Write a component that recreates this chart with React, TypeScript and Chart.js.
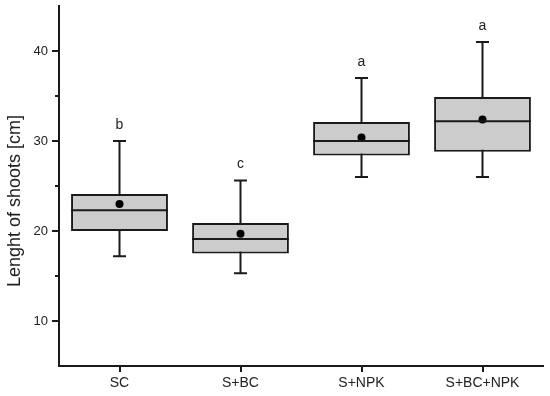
import React, { useEffect, useRef } from "react";
import { Chart, registerables } from "chart.js";

Chart.register(...registerables);

const categories = ["SC", "S+BC", "S+NPK", "S+BC+NPK"];
const q1 = [20.0, 17.5, 28.4, 28.8];
const q3 = [24.1, 20.9, 32.1, 34.9];
const medians = [22.3, 19.1, 30.0, 32.2];
const means = [23.0, 19.7, 30.4, 32.4];
const whiskerLow = [17.2, 15.3, 26.0, 26.0];
const whiskerHigh = [30.0, 25.6, 37.0, 41.0];
const letters = ["b", "c", "a", "a"];
const yMajorTicks = [10, 20, 30, 40];
const yMinorTicks = [15, 25, 35];
const yTitle = "Lenght of shoots [cm]";

const FONT = '"Liberation Sans", Arial, sans-serif';
const LINE = "#1a1a1a";
const LW = 2;

const boxPlugin = {
  id: "boxExtras",
  beforeDatasetsDraw(chart: any) {
    const { ctx, scales } = chart;
    const xs = scales.x;
    const ys = scales.y;
    ctx.save();
    ctx.strokeStyle = LINE;
    ctx.lineWidth = LW;
    categories.forEach((_, i) => {
      const cx = xs.getPixelForValue(i);
      const yLo = ys.getPixelForValue(whiskerLow[i]);
      const yHi = ys.getPixelForValue(whiskerHigh[i]);
      ctx.beginPath();
      ctx.moveTo(cx, yLo);
      ctx.lineTo(cx, yHi);
      ctx.moveTo(cx - 6.5, yLo);
      ctx.lineTo(cx + 6.5, yLo);
      ctx.moveTo(cx - 6.5, yHi);
      ctx.lineTo(cx + 6.5, yHi);
      ctx.stroke();
    });
    ctx.restore();
  },
  afterDatasetsDraw(chart: any) {
    const { ctx, scales } = chart;
    const xs = scales.x;
    const ys = scales.y;
    const meta = chart.getDatasetMeta(0);
    ctx.save();
    ctx.strokeStyle = LINE;
    ctx.lineWidth = LW;
    categories.forEach((_, i) => {
      const el = meta.data[i];
      const half = el.width / 2;
      const cx = el.x;
      const ym = ys.getPixelForValue(medians[i]);
      ctx.beginPath();
      ctx.moveTo(cx - half, ym);
      ctx.lineTo(cx + half, ym);
      ctx.stroke();
    });
    ctx.fillStyle = "#222";
    ctx.font = "14px " + FONT;
    ctx.textAlign = "center";
    ctx.textBaseline = "middle";
    categories.forEach((_, i) => {
      const cx = xs.getPixelForValue(i);
      const yHi = ys.getPixelForValue(whiskerHigh[i]);
      ctx.fillText(letters[i], cx, yHi - 16);
    });
    ctx.restore();
  },
  afterDraw(chart: any) {
    const { ctx, scales } = chart;
    const ys = scales.y;
    const left = chart.chartArea.left;
    ctx.save();
    ctx.strokeStyle = LINE;
    ctx.lineWidth = LW;
    yMinorTicks.forEach((v) => {
      const y = ys.getPixelForValue(v);
      ctx.beginPath();
      ctx.moveTo(left - 4, y);
      ctx.lineTo(left, y);
      ctx.stroke();
    });
    ctx.translate(15, 201);
    ctx.rotate(-Math.PI / 2);
    ctx.fillStyle = "#222";
    ctx.font = "18px " + FONT;
    ctx.textAlign = "center";
    ctx.textBaseline = "middle";
    ctx.fillText(yTitle, 0, 0);
    ctx.restore();
  },
};

export default function App() {
  const ref = useRef<HTMLCanvasElement | null>(null);
  useEffect(() => {
    if (!ref.current) return;
    const chart = new Chart(ref.current, {
      type: "bar",
      data: {
        labels: categories,
        datasets: [
          {
            type: "bar",
            data: q1.map((v, i) => [v, q3[i]]) as any,
            backgroundColor: "#cccccc",
            borderColor: LINE,
            borderWidth: LW,
            borderSkipped: false,
            barPercentage: 0.8,
            categoryPercentage: 1,
            order: 2,
          } as any,
          {
            type: "line",
            data: means,
            showLine: false,
            pointRadius: 4,
            pointBackgroundColor: "#000",
            pointBorderColor: "#000",
            pointBorderWidth: 0,
            order: 0,
          } as any,
        ],
      },
      options: {
        responsive: false,
        animation: false,
        layout: { padding: { left: 0, top: 6, right: 7, bottom: 0 } },
        plugins: { legend: { display: false }, tooltip: { enabled: false } },
        scales: {
          x: {
            type: "category",
            offset: true,
            grid: {
              display: true,
              drawOnChartArea: false,
              offset: false,
              drawTicks: true,
              tickLength: 6,
              color: LINE,
              lineWidth: LW,
            },
            border: { display: true, color: LINE, width: LW },
            ticks: { color: "#222", font: { family: FONT, size: 14 }, padding: 3 },
            afterFit: (s: any) => {
              s.height = 30;
              s.paddingLeft = 0;
              s.paddingRight = 0;
            },
          },
          y: {
            type: "linear",
            min: 5,
            max: 45,
            grid: {
              display: true,
              drawOnChartArea: false,
              drawTicks: true,
              tickLength: 7,
              color: LINE,
              lineWidth: LW,
            },
            border: { display: true, color: LINE, width: LW },
            ticks: { color: "#222", font: { family: FONT, size: 13 }, padding: 4 },
            afterBuildTicks: (s: any) => {
              s.ticks = yMajorTicks.map((v) => ({ value: v }));
            },
            afterFit: (s: any) => {
              s.width = 59;
              s.paddingTop = 0;
              s.paddingBottom = 0;
            },
          },
        },
      },
      plugins: [boxPlugin],
    });
    return () => chart.destroy();
  }, []);
  return (
    <div style={{ position: "fixed", left: 0, top: 0, width: 550, height: 396, background: "#fff" }}>
      <canvas ref={ref} width={550} height={396} />
    </div>
  );
}
